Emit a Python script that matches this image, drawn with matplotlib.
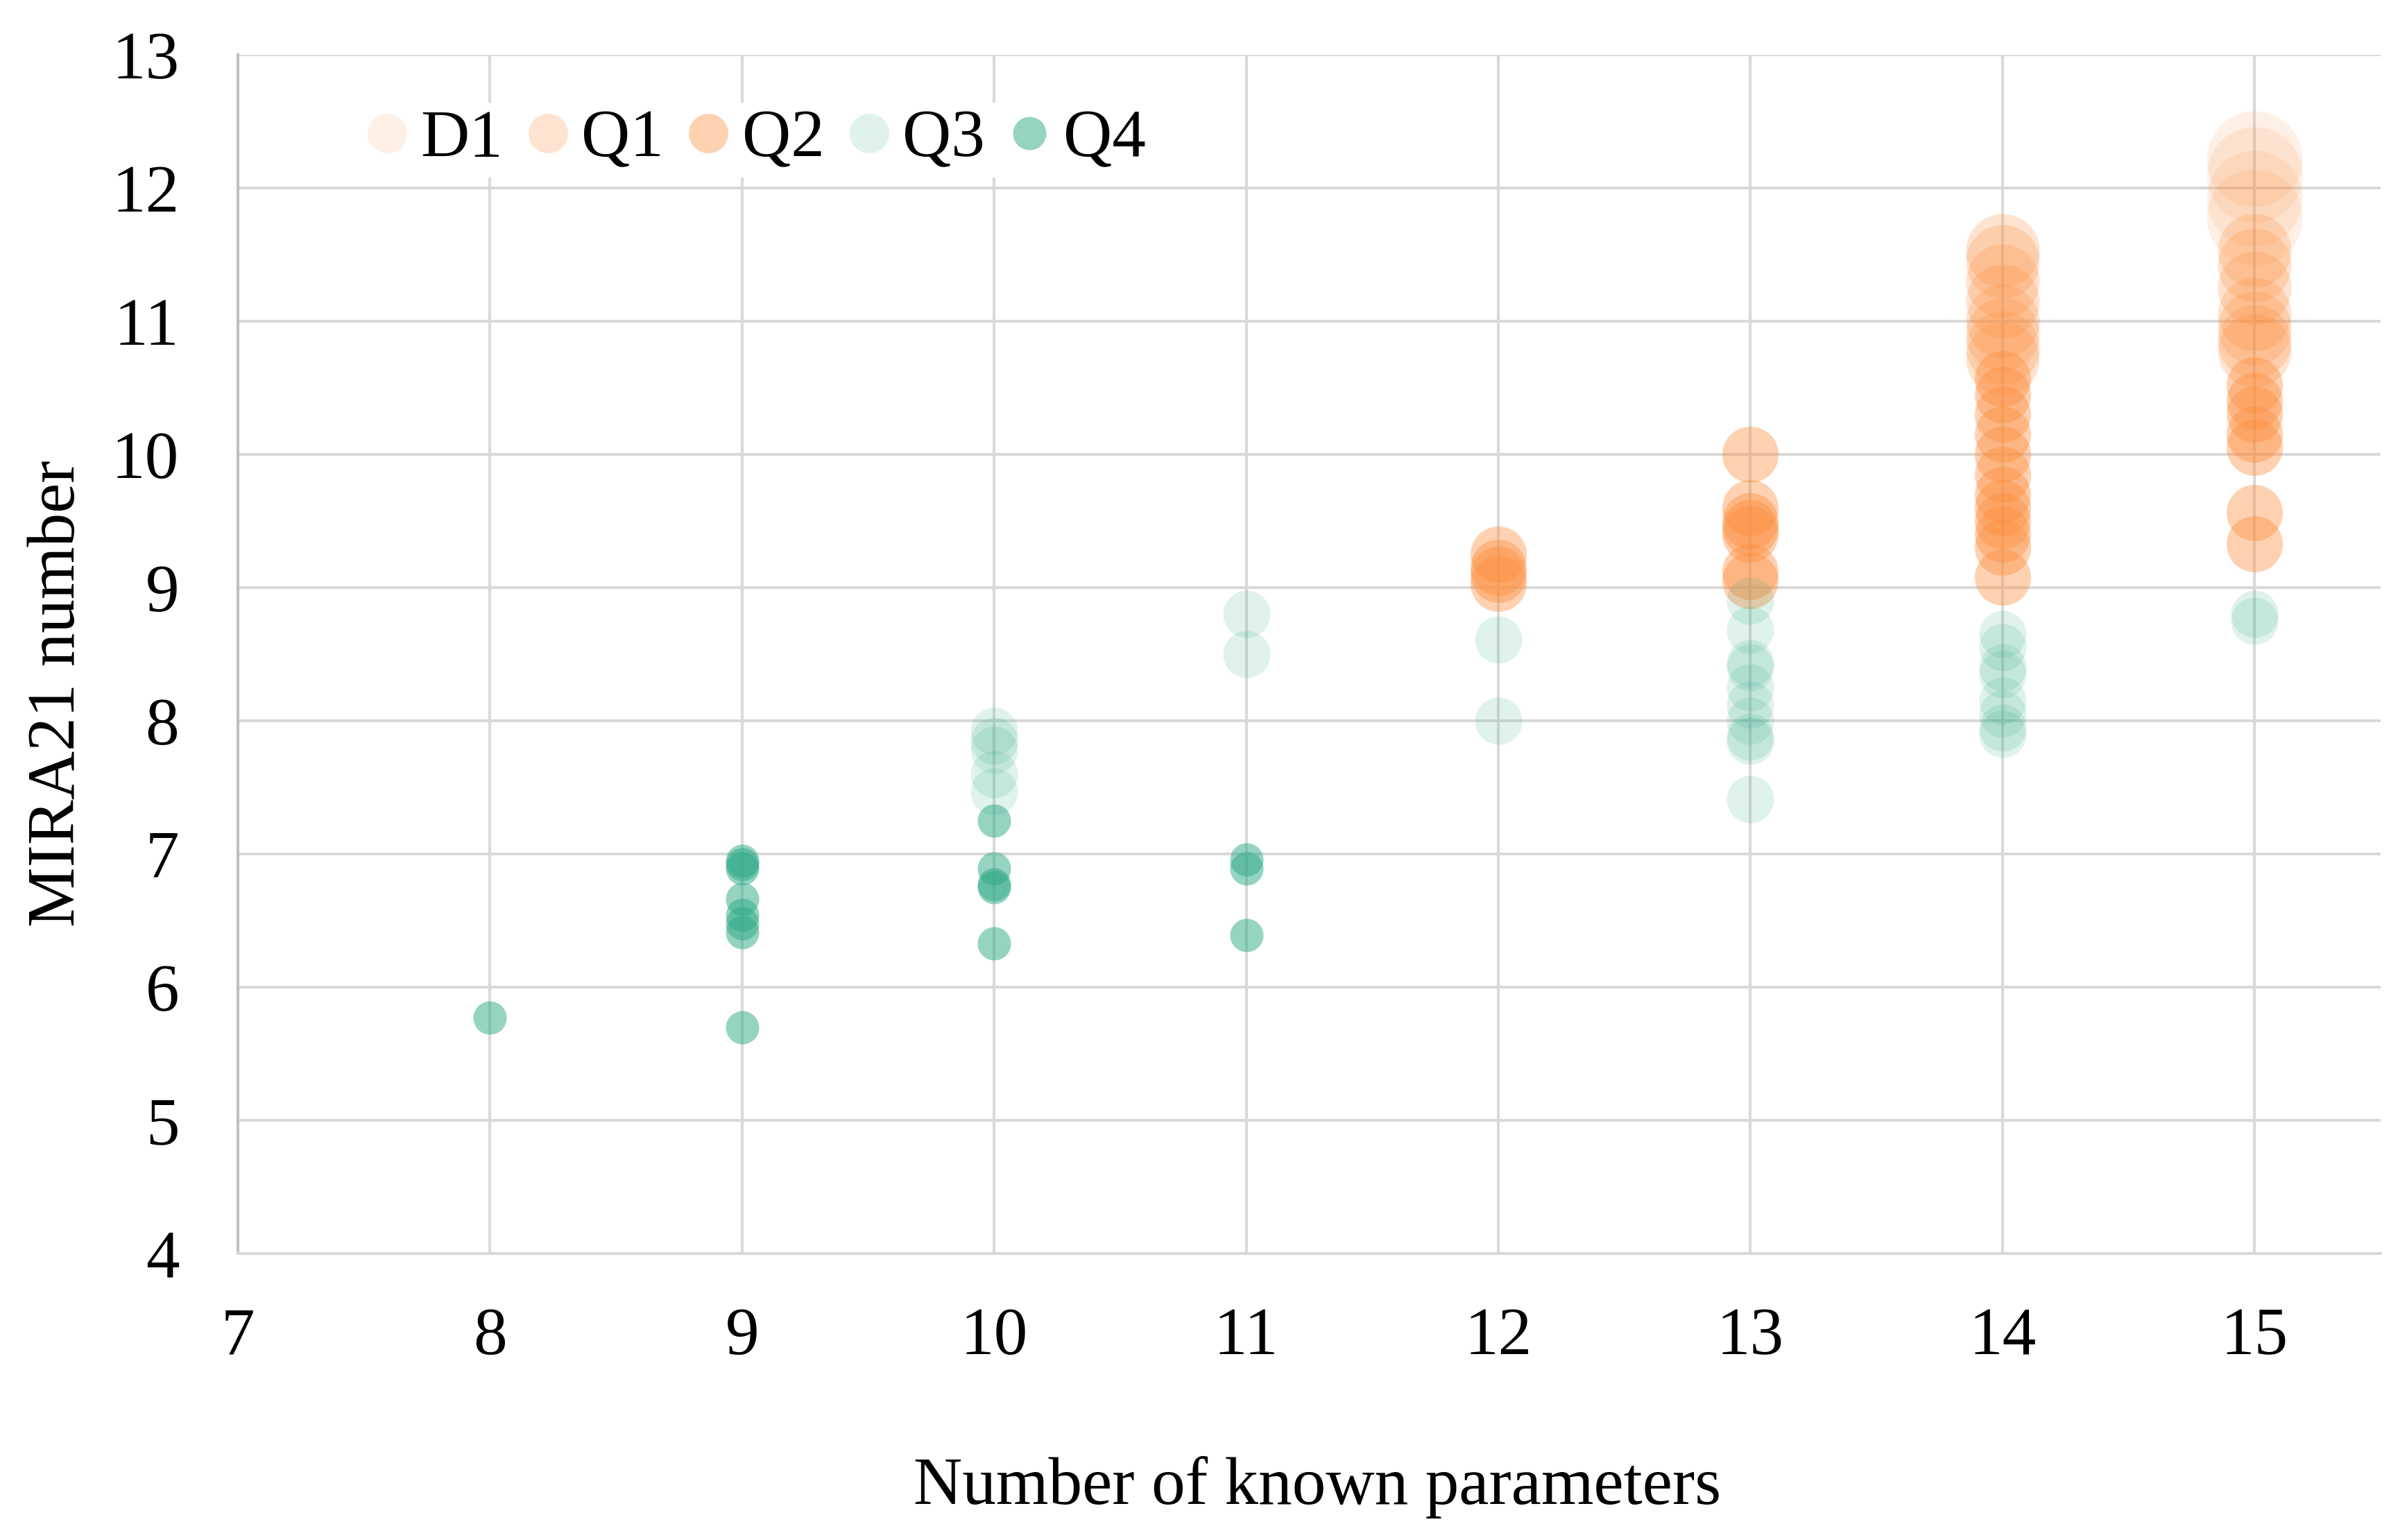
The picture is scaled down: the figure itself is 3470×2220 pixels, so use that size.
import matplotlib
matplotlib.use("Agg")
import matplotlib.pyplot as plt
from matplotlib.lines import Line2D
from matplotlib.colors import to_rgba

# ---- data ----
d1_x = [15, 15, 15, 15]
d1_y = [12.22, 12.10, 11.92, 11.78]

q1_x = [14] * 8 + [15] * 7
q1_y = [11.53, 11.45, 11.30, 11.15, 11.00, 10.90, 10.80, 10.72,
        11.53, 11.42, 11.25, 11.05, 10.95, 10.85, 10.78]

q2_x = [12] * 4 + [13] * 7 + [14] * 12 + [15] * 7
q2_y = [9.25, 9.15, 9.10, 9.03,
        10.00, 9.60, 9.50, 9.45, 9.40, 9.12, 9.05,
        10.57, 10.45, 10.30, 10.15, 10.00, 9.85, 9.70, 9.60, 9.50, 9.40, 9.30, 9.08,
        10.52, 10.40, 10.30, 10.15, 10.05, 9.56, 9.33]

q3_x = [10] * 5 + [11] * 2 + [12] * 2 + [13] * 10 + [14] * 8 + [15] * 2
q3_y = [7.92, 7.85, 7.78, 7.60, 7.47,
        8.80, 8.50,
        8.61, 8.00,
        8.90, 8.68, 8.43, 8.40, 8.25, 8.12, 8.00, 7.88, 7.85, 7.41,
        8.65, 8.55, 8.40, 8.35, 8.15, 8.05, 7.95, 7.90,
        8.80, 8.75]

q4_x = [8] + [9] * 8 + [10] * 5 + [11] * 3
q4_y = [5.77,
        6.95, 6.92, 6.89, 6.66, 6.54, 6.48, 6.41, 5.70,
        7.25, 6.89, 6.77, 6.75, 6.33,
        6.96, 6.89, 6.39]

labels = ["D1", "Q1", "Q2", "Q3", "Q4"]
x_ticks = [7, 8, 9, 10, 11, 12, 13, 14, 15]
y_ticks = [4, 5, 6, 7, 8, 9, 10, 11, 12, 13]

# ---- style ----
orange = "#FD8D3C"
green = "#2EAA86"
groups = [
    (d1_x, d1_y, orange, 0.13, 99.4, 41),
    (q1_x, q1_y, orange, 0.24, 76.3, 41),
    (q2_x, q2_y, orange, 0.40, 58.3, 41),
    (q3_x, q3_y, green, 0.15, 49.0, 41),
    (q4_x, q4_y, green, 0.50, 34.6, 34.6),
]

FS = 70
plt.rcParams['font.family'] = ['Liberation Serif', 'DejaVu Serif']

W, H = 3470, 2220
fig = plt.figure(figsize=(W / 100, H / 100), dpi=100)
ax = fig.add_axes([343 / W, 1 - 1807 / H, (3432 - 343) / W, (1807 - 79) / H])

handles = []
for (gx, gy, c, a, d, ld), lab in zip(groups, labels):
    ax.scatter(gx, gy, s=d ** 2, color=to_rgba(c, a), linewidths=0, zorder=3)
    handles.append(Line2D([], [], ls='', marker='o', markersize=ld,
                          markerfacecolor=to_rgba(c, a), markeredgewidth=0))

ax.set_xlim(7, 15.5)
ax.set_ylim(4, 13)
ax.set_xticks(x_ticks)
ax.set_yticks(y_ticks)
ax.set_axisbelow(True)
ax.grid(True, color="#D9D9D9", linewidth=2.9)
for s in ["top", "right"]:
    ax.spines[s].set_visible(False)
ax.spines["left"].set_color("#BFBFBF")
ax.spines["left"].set_linewidth(2.9)
ax.spines["bottom"].set_color("#D9D9D9")
ax.spines["bottom"].set_linewidth(2.9)
ax.tick_params(axis='both', length=0, labelsize=FS, colors='black')
ax.tick_params(axis='y', pad=61)
ax.tick_params(axis='x', pad=56)

fig.text(1899 / W, 1 - 2168 / H, "Number of known parameters", fontsize=FS,
         ha='center', va='baseline')
fig.text(84 / W, 1 - 1000 / H, "MIRA21 number", fontsize=FS, rotation=90,
         ha='center', va='center')

leg = ax.legend(handles, labels, ncol=5, loc='center left',
                bbox_to_anchor=(519 / W, 1 - 202 / H), bbox_transform=fig.transFigure,
                fontsize=FS, handlelength=0.6, handletextpad=0.2, columnspacing=0.36,
                borderpad=0.1, borderaxespad=0, frameon=True, fancybox=False)
leg.get_frame().set_facecolor('white')
leg.get_frame().set_edgecolor('none')
leg.get_frame().set_alpha(1)
leg.set_zorder(5)

fig.savefig("out.png", dpi=100)
